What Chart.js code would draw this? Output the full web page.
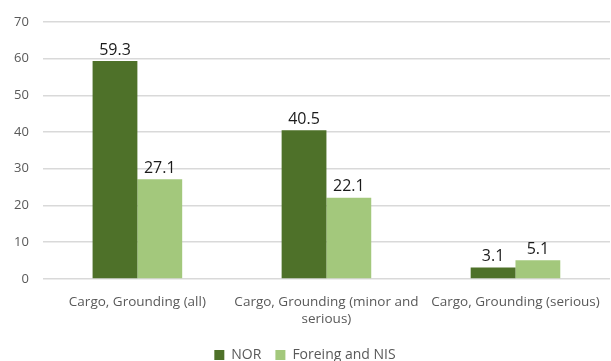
<!DOCTYPE html>
<html>
<head>
<meta charset="utf-8">
<script src="https://cdn.jsdelivr.net/npm/chart.js@4/dist/chart.umd.min.js"></script>
<style>
  html, body { margin: 0; padding: 0; background: #fff; }
  #wrap { width: 611px; height: 361px; }
</style>
</head>
<body>
<div id="wrap"><canvas id="myChart"></canvas></div>
<script>
const categories = [
  'Cargo, Grounding (all)',
  ['Cargo, Grounding (minor and', 'serious)'],
  'Cargo, Grounding (serious)'
]
const norValues = [59.3, 40.5, 3.1]
const foreignValues = [27.1, 22.1, 5.1]
const yTicks = [0, 10, 20, 30, 40, 50, 60, 70]

const fontFamily = '"Open Sans", Calibri, sans-serif'

// writes the value above every bar
const barValues = {
  id: 'barValues',
  afterDatasetsDraw (chart) {
    const ctx = chart.ctx
    ctx.save()
    ctx.font = '16px ' + fontFamily
    ctx.fillStyle = '#1a1a1a'
    ctx.textAlign = 'center'
    ctx.textBaseline = 'bottom'
    chart.data.datasets.forEach((ds, i) => {
      chart.getDatasetMeta(i).data.forEach((bar, j) => {
        ctx.fillText(ds.data[j].toFixed(1), bar.x, bar.y - 3)
      })
    })
    ctx.restore()
  }
}

const ctx = document.getElementById('myChart').getContext('2d')
const myChart = new Chart(ctx, {
  type: 'bar',
  data: {
    labels: categories,
    datasets: [
      {
        label: 'NOR',
        data: norValues,
        backgroundColor: '#4e7129'
      },
      {
        label: 'Foreing and NIS',
        data: foreignValues,
        backgroundColor: '#a3c87c'
      }
    ]
  },
  options: {
    responsive: true,
    maintainAspectRatio: false,
    animation: false,
    categoryPercentage: 0.474,
    barPercentage: 1,
    layout: {
      padding: { top: 10, right: 1, left: 0, bottom: -11 }
    },
    plugins: {
      legend: {
        position: 'bottom',
        labels: {
          boxWidth: 10,
          boxHeight: 10,
          padding: 14,
          color: '#595959',
          font: { family: fontFamily, size: 14 }
        }
      },
      tooltip: { enabled: false }
    },
    scales: {
      x: {
        grid: { display: false },
        border: { display: false },
        ticks: {
          color: '#595959',
          padding: 6,
          maxRotation: 0,
          autoSkip: false,
          font: { family: fontFamily, size: 13.5, lineHeight: 1.3 }
        }
      },
      y: {
        min: 0,
        max: 70,
        afterBuildTicks (axis) {
          axis.ticks = yTicks.map(v => ({ value: v }))
        },
        grid: { color: '#d9d9d9', lineWidth: 1.5, drawTicks: false },
        border: { display: false },
        ticks: {
          color: '#595959',
          padding: 14,
          font: { family: fontFamily, size: 13 }
        }
      }
    }
  },
  plugins: [barValues]
})
</script>
</body>
</html>
